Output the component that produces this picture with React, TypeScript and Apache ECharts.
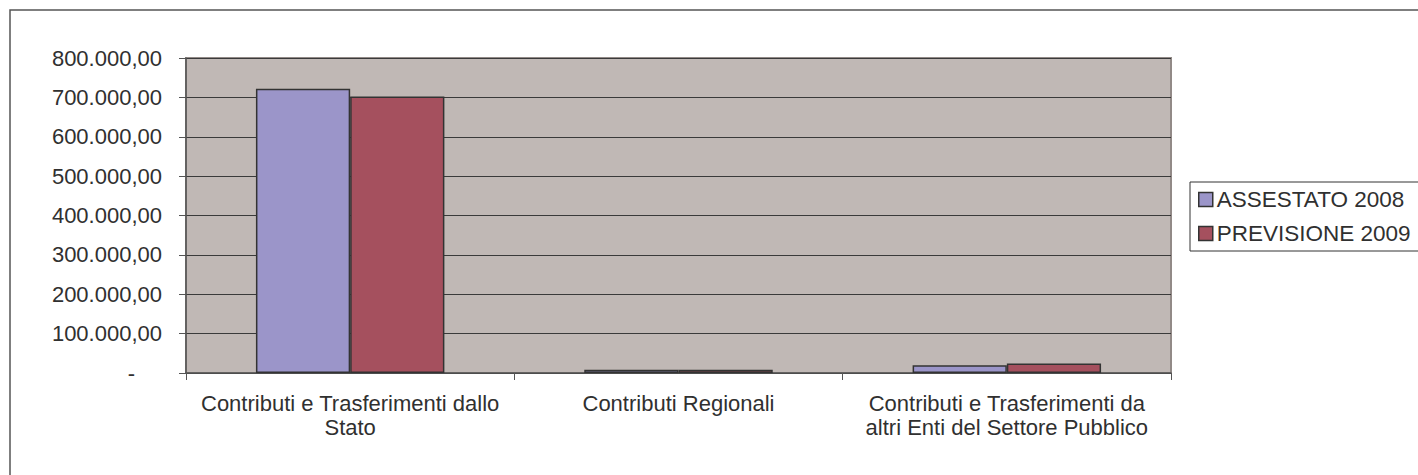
import React, { useEffect, useRef } from "react";
import * as echarts from "echarts";

const categories = [
  "Contributi e Trasferimenti dallo\nStato",
  "Contributi Regionali",
  "Contributi e Trasferimenti da\naltri Enti del Settore Pubblico",
];
const seriesNames = ["ASSESTATO 2008", "PREVISIONE 2009"];
const assestato2008 = [722000, 8000, 20000];
const previsione2009 = [702000, 8000, 24000];
const yMin = 0;
const yMax = 800000;
const yStep = 100000;

function fmt(v: number): string {
  if (v === 0) return "{d|-}";
  const s = Math.round(v).toString().replace(/\B(?=(\d{3})+(?!\d))/g, ".");
  return s + ",00";
}

export default function App() {
  const ref = useRef<HTMLDivElement>(null);
  useEffect(() => {
    if (!ref.current) return;
    const chart = echarts.init(ref.current, undefined, { renderer: "svg" });
    const font = "'Liberation Sans', Arial, sans-serif";
    const textColor = "#303030";
    chart.setOption({
      animation: false,
      backgroundColor: "#ffffff",
      textStyle: { fontFamily: font, color: textColor },
      graphic: [
        {
          type: "rect",
          shape: { x: 10, y: 10, width: 1500, height: 600 },
          style: { fill: "none", stroke: "#555", lineWidth: 1.5 },
          silent: true,
        },
      ],
      grid: {
        left: 186,
        right: 247,
        top: 58,
        bottom: 102,
        show: true,
        backgroundColor: "#C0B8B5",
        borderColor: "#928A87",
        borderWidth: 2,
      },
      legend: {
        orient: "vertical",
        left: 1190,
        top: 182,
        data: seriesNames,
        icon: "rect",
        itemWidth: 14,
        itemHeight: 14,
        itemGap: 11,
        padding: [6, 24, 6, 8],
        borderColor: "#333",
        borderWidth: 1,
        backgroundColor: "#fff",
        textStyle: { fontFamily: font, fontSize: 22.5, color: textColor, padding: [0, 0, 0, -1] },
        itemStyle: { borderColor: "#333", borderWidth: 1.5 },
      },
      xAxis: {
        type: "category",
        data: categories,
        axisLine: { show: true, lineStyle: { color: "#555", width: 1.5 } },
        axisTick: { show: true, alignWithLabel: false, length: 7, lineStyle: { color: "#555" } },
        axisLabel: {
          fontFamily: font,
          fontSize: 22,
          color: textColor,
          lineHeight: 24,
          margin: 18,
          interval: 0,
        },
      },
      yAxis: {
        type: "value",
        min: yMin,
        max: yMax,
        interval: yStep,
        axisLine: { show: true, lineStyle: { color: "#555", width: 1.5 } },
        axisTick: { show: true, length: 7, lineStyle: { color: "#555" } },
        splitLine: { show: true, lineStyle: { color: "#3a3a3a", width: 1 } },
        axisLabel: {
          fontFamily: font,
          fontSize: 22,
          color: textColor,
          margin: 24,
          formatter: (v: number) => fmt(v),
          rich: { d: { fontFamily: font, fontSize: 22, color: textColor, padding: [0, 27, 0, 0] } },
        },
      },
      series: [
        {
          name: seriesNames[0],
          type: "bar",
          data: assestato2008,
          barGap: "0%",
          barCategoryGap: "42.6%",
          itemStyle: { color: "#9B95C9", borderColor: "#333", borderWidth: 1.5 },
        },
        {
          name: seriesNames[1],
          type: "bar",
          data: previsione2009,
          barGap: "0%",
          barCategoryGap: "42.6%",
          itemStyle: { color: "#A5505E", borderColor: "#333", borderWidth: 1.5 },
        },
      ],
    });
    return () => chart.dispose();
  }, []);
  return (
    <div
      ref={ref}
      style={{ position: "fixed", left: 0, top: 0, width: 1418, height: 475 }}
    />
  );
}
